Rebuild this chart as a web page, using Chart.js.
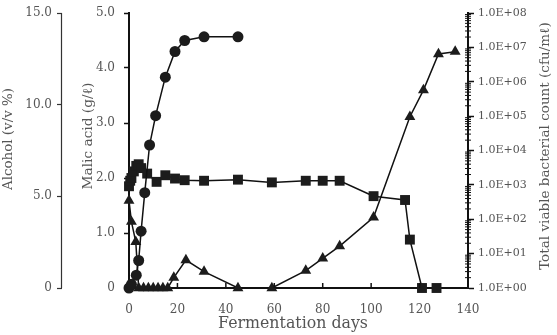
<!DOCTYPE html>
<html>
<head>
<meta charset="utf-8">
<script src="https://cdn.jsdelivr.net/npm/chart.js@4/dist/chart.umd.min.js"></script>
<style>
html,body{margin:0;padding:0;background:#fff;}
#wrap{width:557px;height:335px;position:relative;}
</style>
</head>
<body>
<div id="wrap"><canvas id="c" width="557" height="335"></canvas></div>
<script>
// ---- data ----
const alcoholDays = [0, 1, 3, 4, 5, 6.5, 8.5, 11, 15, 19, 23, 31, 45];
const alcoholValues = [0, 0.2, 0.7, 1.5, 3.1, 5.2, 7.8, 9.4, 11.5, 12.9, 13.5, 13.7, 13.7];

const malicDays = [0, 0.5, 1, 2, 3, 4, 5, 7.5, 11.4, 15, 19, 23, 31, 45, 59, 73, 80, 87, 101, 114, 116, 121, 127];
const malicValues = [1.85, 1.95, 2.0, 2.12, 2.22, 2.25, 2.18, 2.08, 1.93, 2.05, 1.99, 1.96, 1.95, 1.97, 1.92, 1.95, 1.95, 1.95, 1.67, 1.6, 0.88, 0, 0];

const bacteriaDays = [0, 1, 2.8, 4, 6, 8, 10, 12, 14, 16, 18.5, 23.5, 31, 45, 59, 73, 80, 87, 101, 116, 121.6, 127.8, 134.7];
const bacteriaValues = [350, 85, 22, 1, 1, 1, 1, 1, 1, 1, 2, 6.5, 3, 1, 1, 3.2, 7.3, 16.6, 114, 96000, 570000, 6400000, 7500000];

const xTickLabels = ['0', '20', '40', '60', '80', '100', '120', '140'];
const xTickValues = [0, 20, 40, 60, 80, 100, 120, 140];
const alcoholTickLabels = ['0', '5.0', '10.0', '15.0'];
const alcoholTickValues = [0, 5, 10, 15];
const malicTickLabels = ['0', '1.0', '2.0', '3.0', '4.0', '5.0'];
const malicTickValues = [0, 1, 2, 3, 4, 5];
const bacteriaTickLabels = ['1.0E+00', '1.0E+01', '1.0E+02', '1.0E+03', '1.0E+04', '1.0E+05', '1.0E+06', '1.0E+07', '1.0E+08'];
const bacteriaTickValues = [1, 10, 100, 1e3, 1e4, 1e5, 1e6, 1e7, 1e8];

const xAxisTitle = 'Fermentation days';
const alcoholTitle = 'Alcohol (v/v %)';
const malicTitle = 'Malic acid (g/\u2113)';
const bacteriaTitle = 'Total viable bacterial count (cfu/m\u2113)';

// ---- chart ----
const pts = (xs, ys) => xs.map((x, i) => ({x: x, y: ys[i]}));
const FONT = 'DejaVu Serif';
const LABEL_COLOR = '#555';
const TITLE_COLOR = '#555';
const MARK = '#1c1c1c';

function drawTitle(ctx, text, cx, cy, targetLen, rot, baseSize) {
  ctx.save();
  ctx.font = baseSize + 'px "' + FONT + '"';
  const w = ctx.measureText(text).width;
  const size = Math.max(9, Math.min(20, baseSize * targetLen / w));
  ctx.font = size.toFixed(2) + 'px "' + FONT + '"';
  ctx.fillStyle = TITLE_COLOR;
  ctx.textAlign = 'center';
  ctx.textBaseline = 'middle';
  ctx.translate(cx, cy);
  ctx.rotate(rot);
  ctx.fillText(text, 0, 0);
  ctx.restore();
}

const customTicks = {
  id: 'customTicks',
  beforeDraw(chart) {
    Object.values(chart.scales).forEach(s => { s._labelItems = null; s._gridLineItems = null; });
  },
  afterDraw(chart) {
    const ctx = chart.ctx;
    const xs = chart.scales.x;
    const yb = chart.scales.yBac;
    const ya = chart.scales.yAlc;
    ctx.save();
    ctx.strokeStyle = '#111';
    ctx.lineWidth = 1.5;
    xTickValues.forEach(v => {
      if (v === 0 || v === 140) return;
      const px = xs.getPixelForValue(v);
      ctx.beginPath(); ctx.moveTo(px, xs.top); ctx.lineTo(px, xs.top - 5); ctx.stroke();
    });
    ctx.lineWidth = 1;
    for (let e = 0; e < bacteriaTickValues.length - 1; e++) {
      for (let m = 2; m <= 9; m++) {
        const py = yb.getPixelForValue(m * bacteriaTickValues[e]);
        ctx.beginPath(); ctx.moveTo(yb.left - 3, py); ctx.lineTo(yb.left + 3, py); ctx.stroke();
      }
    }
    // alcohol axis line
    ctx.strokeStyle = '#333';
    ctx.lineWidth = 1.2;
    ctx.beginPath();
    ctx.moveTo(ya.right - 0.5, ya.getPixelForValue(15));
    ctx.lineTo(ya.right - 0.5, ya.getPixelForValue(0));
    ctx.stroke();
    ctx.restore();
    drawTitle(ctx, alcoholTitle, 9, 139, 102, -Math.PI / 2, 14);
    drawTitle(ctx, malicTitle, 88, 136, 107, -Math.PI / 2, 14);
    drawTitle(ctx, bacteriaTitle, chart.width - 12, 146, 248, -Math.PI / 2, 14);
    drawTitle(ctx, xAxisTitle, 293, 324, 150, 0, 16);
  }
};

const setTicks = (vals) => (s) => { s.ticks = vals.map(v => ({value: v})); };
const fitV = (w) => (s) => { s.width = w; s.paddingTop = 0; s.paddingBottom = 0; };

new Chart(document.getElementById('c'), {
  type: 'line',
  data: {
    datasets: [
      {
        label: 'Alcohol', data: pts(alcoholDays, alcoholValues), yAxisID: 'yAlc',
        pointStyle: 'circle', pointRadius: 5.5, borderColor: '#111', borderWidth: 1.5,
        pointBackgroundColor: MARK, pointBorderColor: MARK, pointBorderWidth: 0, clip: false
      },
      {
        label: 'Malic acid', data: pts(malicDays, malicValues), yAxisID: 'yMal',
        pointStyle: 'rect', pointRadius: 7, borderColor: '#111', borderWidth: 1.5,
        pointBackgroundColor: MARK, pointBorderColor: MARK, pointBorderWidth: 0, clip: false
      },
      {
        label: 'Bacteria', data: pts(bacteriaDays, bacteriaValues), yAxisID: 'yBac',
        pointStyle: 'triangle', pointRadius: 6.3, borderColor: '#111', borderWidth: 1.5,
        pointBackgroundColor: MARK, pointBorderColor: MARK, pointBorderWidth: 0, clip: false
      }
    ]
  },
  options: {
    responsive: false,
    animation: false,
    layout: {padding: {top: 13, left: 0, right: 0, bottom: 0}},
    plugins: {legend: {display: false}, tooltip: {enabled: false}},
    elements: {line: {tension: 0}},
    scales: {
      x: {
        type: 'linear', min: 0, max: 140,
        afterBuildTicks: setTicks(xTickValues),
        afterFit: s => { s.height = 47; s.paddingLeft = 0; s.paddingRight = 0; },
        ticks: {
          font: {family: FONT, size: 12}, color: LABEL_COLOR, padding: 7,
          callback: (v) => xTickLabels[xTickValues.indexOf(v)]
        },
        grid: {display: false},
        border: {display: true, color: '#111', width: 2},
        title: {display: false}
      },
      yAlc: {
        type: 'linear', position: 'left', min: 0, max: 15, weight: 2,
        afterBuildTicks: setTicks(alcoholTickValues),
        afterFit: fitV(62),
        ticks: {
          font: {family: FONT, size: 12}, color: LABEL_COLOR, padding: 5,
          callback: (v) => alcoholTickLabels[alcoholTickValues.indexOf(v)]
        },
        grid: {drawOnChartArea: false, tickLength: 5, color: '#333', tickWidth: 1.2},
        border: {display: false},
        title: {display: false}
      },
      yMal: {
        type: 'linear', position: 'left', min: 0, max: 5, weight: 1,
        afterBuildTicks: setTicks(malicTickValues),
        afterFit: fitV(67),
        ticks: {
          font: {family: FONT, size: 12}, color: LABEL_COLOR, padding: 9,
          callback: (v) => malicTickLabels[malicTickValues.indexOf(v)]
        },
        grid: {drawOnChartArea: false, tickLength: 5, color: '#111', tickWidth: 1.5},
        border: {display: true, color: '#111', width: 2},
        title: {display: false}
      },
      yBac: {
        type: 'logarithmic', position: 'right', min: 1, max: 1e8,
        afterBuildTicks: setTicks(bacteriaTickValues),
        afterFit: fitV(89),
        ticks: {
          font: {family: FONT, size: 11}, color: LABEL_COLOR, padding: 4,
          callback: (v) => bacteriaTickLabels[bacteriaTickValues.indexOf(v)]
        },
        grid: {drawOnChartArea: false, tickLength: 6, color: '#111', tickWidth: 1.5},
        border: {display: true, color: '#111', width: 2},
        title: {display: false}
      }
    }
  },
  plugins: [customTicks]
});
</script>
</body>
</html>
